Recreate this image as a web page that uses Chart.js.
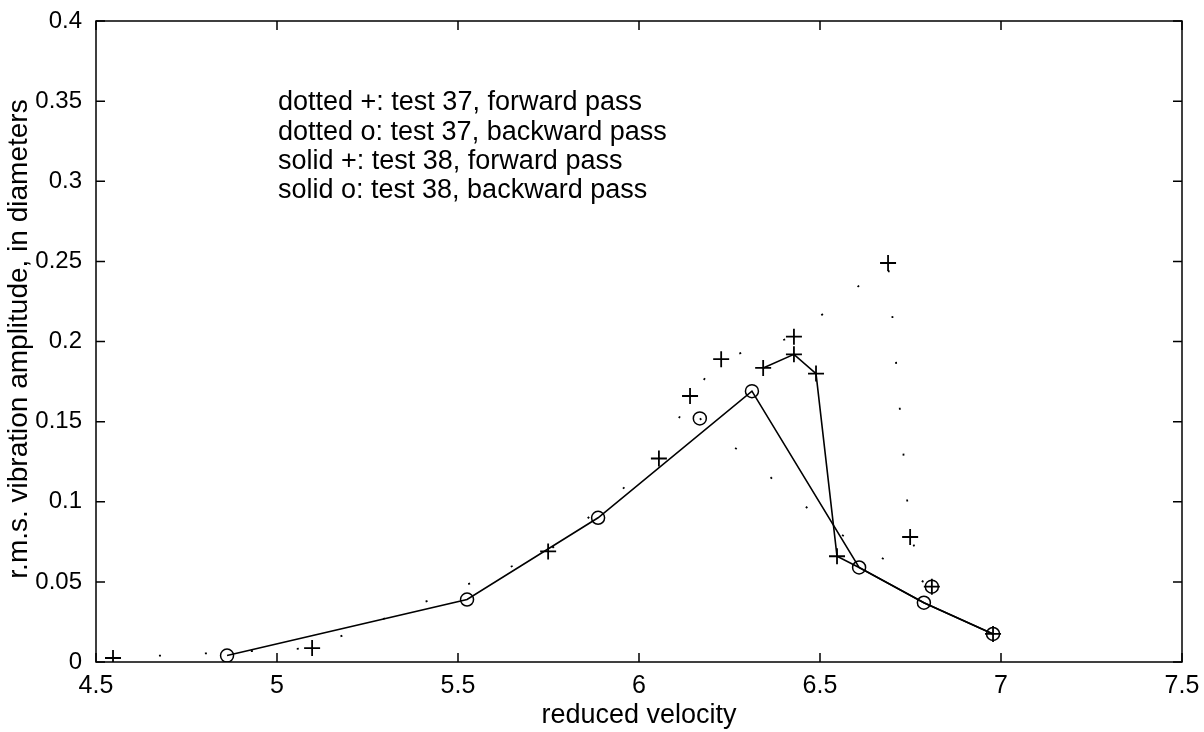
<!DOCTYPE html>
<html>
<head>
<meta charset="utf-8">
<script src="https://cdn.jsdelivr.net/npm/chart.js@4.4.1/dist/chart.umd.min.js"></script>
<style>
    html, body { margin: 0; padding: 0; background: #fff; }
    #wrap { width: 1204px; height: 732px; }
</style>
</head>
<body>
<div id="wrap"><canvas id="myChart"></canvas></div>
<script>
    // values
    const xTicks = [4.5, 5, 5.5, 6, 6.5, 7, 7.5];
    const yTicks = [0, 0.05, 0.1, 0.15, 0.2, 0.25, 0.3, 0.35, 0.4];

    // test 38, backward pass (solid o)
    const solidOx = [4.862, 5.525, 5.887, 6.312, 6.608, 6.787, 6.978];
    const solidOy = [0.004, 0.039, 0.09, 0.169, 0.059, 0.037, 0.0175];

    // test 38, forward pass (solid +)
    const solidPx = [6.343, 6.428, 6.489, 6.547, 6.608, 6.787, 6.978];
    const solidPy = [0.1835, 0.192, 0.18, 0.066, 0.059, 0.037, 0.0175];
    const solidPmark = [1, 1, 1, 1, 0, 0, 1];

    // test 37, forward pass (dotted +)
    const dotPx = [4.547, 5.097, 5.749, 6.055, 6.141, 6.227, 6.428, 6.688, 6.749, 6.809];
    const dotPy = [0.0025, 0.0087, 0.069, 0.127, 0.166, 0.189, 0.203, 0.249, 0.078, 0.047];

    // test 37, backward pass (dotted o)
    const dotOx = [6.168, 6.54, 6.809];
    const dotOy = [0.152, 0.082, 0.047];
    const dotOmark = [1, 0, 1];

    const legendLines = [
        'dotted +: test 37, forward pass',
        'dotted o: test 37, backward pass',
        'solid +: test 38, forward pass',
        'solid o: test 38, backward pass'
    ];
    const yTitle = 'r.m.s. vibration amplitude, in diameters';

    const toPts = (xs, ys) => xs.map((x, i) => ({x: x, y: ys[i]}));
    const FONT = '"Liberation Sans", Arial, sans-serif';

    // box, inward ticks and the text note, like the matlab figure
    const framePlugin = {
        id: 'frame',
        afterDraw(chart) {
            const ctx = chart.ctx, a = chart.chartArea;
            const xs = chart.scales.x, ys = chart.scales.y;
            const t = 9;
            ctx.save();
            ctx.strokeStyle = '#000';
            ctx.lineWidth = 1.5;
            ctx.strokeRect(a.left, a.top, a.right - a.left, a.bottom - a.top);
            ctx.beginPath();
            xTicks.forEach(v => {
                const px = xs.getPixelForValue(v);
                ctx.moveTo(px, a.bottom); ctx.lineTo(px, a.bottom - t);
                ctx.moveTo(px, a.top); ctx.lineTo(px, a.top + t);
            });
            yTicks.forEach(v => {
                const py = ys.getPixelForValue(v);
                ctx.moveTo(a.left, py); ctx.lineTo(a.left + t, py);
                ctx.moveTo(a.right, py); ctx.lineTo(a.right - t, py);
            });
            ctx.stroke();

            ctx.fillStyle = '#000';
            ctx.font = '27px ' + FONT;
            ctx.textBaseline = 'middle';
            legendLines.forEach((s, i) => {
                ctx.fillText(s, 278, 103 + i * 29.3);
            });

            // y title drawn by hand so it can sit left of the tick labels
            ctx.font = '28px ' + FONT;
            ctx.textAlign = 'center';
            ctx.translate(19, 339);
            ctx.rotate(-Math.PI / 2);
            ctx.fillText(yTitle, 0, 0);
            ctx.restore();
        }
    };

    const ctx = document.getElementById('myChart');

    new Chart(ctx, {
        type: 'scatter',
        data: {
            datasets: [
                {
                    label: 'solid o',
                    data: toPts(solidOx, solidOy),
                    showLine: true,
                    borderColor: '#000',
                    borderWidth: 1.6,
                    pointStyle: 'circle',
                    pointRadius: 6.5,
                    pointBorderWidth: 1.5,
                    pointBackgroundColor: 'rgba(0,0,0,0)',
                    pointBorderColor: '#000'
                },
                {
                    label: 'solid +',
                    data: toPts(solidPx, solidPy),
                    showLine: true,
                    borderColor: '#000',
                    borderWidth: 1.6,
                    pointStyle: 'cross',
                    pointRadius: solidPmark.map(m => m ? 8 : 0),
                    pointBorderWidth: 1.8,
                    pointBorderColor: '#000'
                },
                {
                    label: 'dotted +',
                    data: toPts(dotPx, dotPy),
                    showLine: true,
                    borderColor: '#000',
                    borderWidth: 1.8,
                    borderDash: [2, 44],
                    pointStyle: 'cross',
                    pointRadius: 8,
                    pointBorderWidth: 1.8,
                    pointBorderColor: '#000'
                },
                {
                    label: 'dotted o',
                    data: toPts(dotOx, dotOy),
                    showLine: true,
                    borderColor: '#000',
                    borderWidth: 1.8,
                    borderDash: [2, 44],
                    pointStyle: 'circle',
                    pointRadius: dotOmark.map(m => m ? 6.5 : 0),
                    pointBorderWidth: 1.5,
                    pointBackgroundColor: 'rgba(0,0,0,0)',
                    pointBorderColor: '#000'
                }
            ]
        },
        options: {
            responsive: true,
            maintainAspectRatio: false,
            animation: false,
            layout: {
                padding: {left: 0, right: 22, top: 21, bottom: 0}
            },
            plugins: {
                legend: {display: false},
                tooltip: {enabled: false}
            },
            scales: {
                x: {
                    type: 'linear',
                    min: 4.5,
                    max: 7.5,
                    afterBuildTicks: s => { s.ticks = xTicks.map(v => ({value: v})); },
                    afterFit: s => { s.height = 70; },
                    grid: {display: false},
                    border: {display: false},
                    ticks: {
                        color: '#000',
                        font: {family: FONT, size: 25},
                        padding: 1,
                        maxRotation: 0,
                        callback: v => String(v)
                    },
                    title: {
                        display: true,
                        text: 'reduced velocity',
                        color: '#000',
                        font: {family: FONT, size: 27},
                        padding: 0
                    }
                },
                y: {
                    type: 'linear',
                    min: 0,
                    max: 0.4,
                    afterBuildTicks: s => { s.ticks = yTicks.map(v => ({value: v})); },
                    afterFit: s => { s.width = 96; },
                    grid: {display: false},
                    border: {display: false},
                    ticks: {
                        color: '#000',
                        font: {family: FONT, size: 24},
                        padding: 6,
                        callback: v => String(+v.toFixed(2))
                    }
                }
            }
        },
        plugins: [framePlugin]
    });
</script>
</body>
</html>
